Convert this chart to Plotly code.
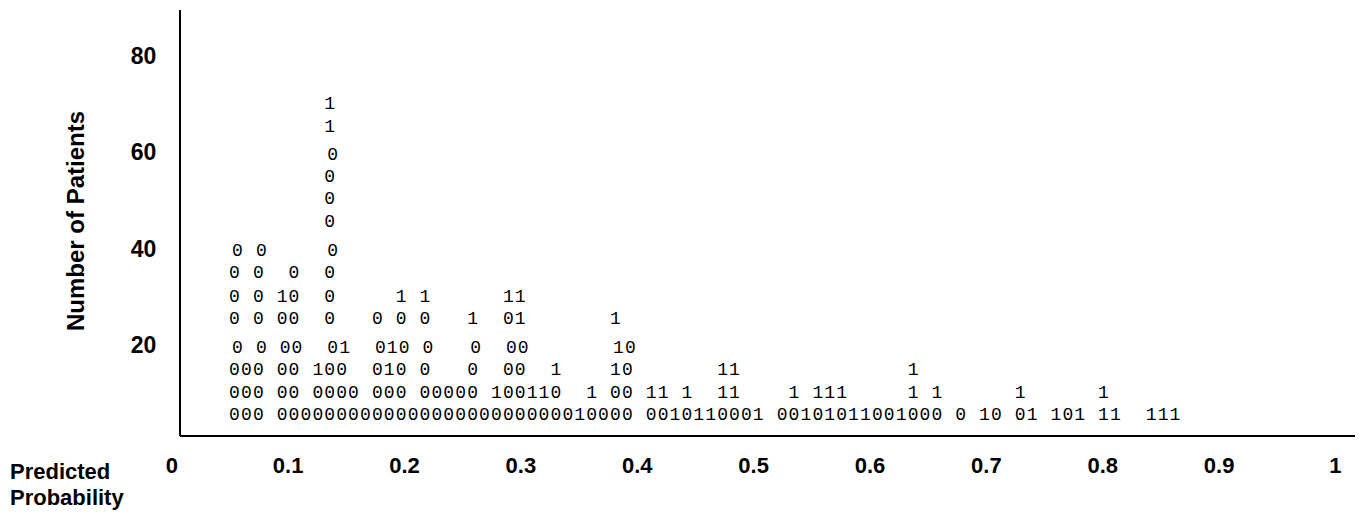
import plotly.graph_objects as go

# ---------------- data ----------------
PROB_TICKS = [0, 0.1, 0.2, 0.3, 0.4, 0.5, 0.6, 0.7, 0.8, 0.9, 1.0]
PROB_TICK_TEXT = ["0", "0.1", "0.2", "0.3", "0.4", "0.5", "0.6", "0.7", "0.8", "0.9", "1"]
COUNT_TICKS = [20, 40, 60, 80]
COUNT_TICK_TEXT = ["20", "40", "60", "80"]

# probability of the first bin centre and width of one bin
BIN_START = 0.0539
BIN_WIDTH = 0.01023

# stack level (patients) of each row of outcome codes, bottom to top
ROW_LEVEL = [5.3, 9.9, 14.7, 19.2, 25.3, 29.8, 34.8, 39.4, 45.4, 50.2, 54.8, 59.4, 65.2, 70.0]

# each row: (first bin index, outcome codes 0/1 in consecutive bins)
ROW_GROUPS = [
    [(0, "000"), (4, "0000000000"), (14, "0000000000"), (24, "00000"), (29, "10000"),
     (35, "0010110001"), (46, "00101011001000"), (61, "0"), (63, "10"), (66, "01"),
     (69, "101"), (73, "11"), (77, "111")],
    [(0, "000"), (4, "00"), (7, "0000"), (12, "000"), (16, "00000"), (22, "100110"),
     (30, "1"), (32, "00"), (35, "11"), (38, "1"), (41, "11"), (47, "1"), (49, "111"),
     (57, "1"), (59, "1"), (66, "1"), (73, "1")],
    [(0, "000"), (4, "00"), (7, "100"), (12, "010"), (16, "0"), (20, "0"), (23, "00"),
     (27, "1"), (32, "10"), (41, "11"), (57, "1")],
    [(0, "0"), (2, "0"), (4, "00"), (8, "01"), (12, "010"), (16, "0"), (20, "0"),
     (23, "00"), (32, "10")],
    [(0, "0"), (2, "0"), (4, "00"), (8, "0"), (12, "0"), (14, "0"), (16, "0"),
     (20, "1"), (23, "01"), (32, "1")],
    [(0, "0"), (2, "0"), (4, "10"), (8, "0"), (14, "1"), (16, "1"), (23, "11")],
    [(0, "0"), (2, "0"), (5, "0"), (8, "0")],
    [(0, "0"), (2, "0"), (8, "0")],
    [(8, "0")],
    [(8, "0")],
    [(8, "0")],
    [(8, "0")],
    [(8, "1")],
    [(8, "1")],
]

# ---------------- layout constants ----------------
ROW_NUDGE = [0, 0, 0, 0.0026, 0, 0, 0, 0.0026, 0, 0, 0, 0.0026, 0, 0]
FONT_FAMILY = "Liberation Sans, Arial, sans-serif"
XTICK_FONT = dict(family=FONT_FAMILY, size=22, color="black", weight="bold")
YTICK_FONT = dict(family=FONT_FAMILY, size=23, color="black", weight="bold")
TITLE_FONT = dict(family=FONT_FAMILY, size=24, color="black", weight="bold")
LABEL_FONT = dict(family=FONT_FAMILY, size=22, color="black", weight="bold")

xs, ys, ts = [], [], []
for level, groups, nudge in zip(ROW_LEVEL, ROW_GROUPS, ROW_NUDGE):
    for start, codes in groups:
        for k, ch in enumerate(codes):
            xs.append(BIN_START + (start + k) * BIN_WIDTH + nudge)
            ys.append(level)
            ts.append(ch)

fig = go.Figure()
fig.add_trace(go.Scatter(
    x=xs, y=ys, text=ts, mode="text", textposition="middle center",
    textfont=dict(family="Liberation Mono, DejaVu Sans Mono, monospace", size=18, color="black"),
    cliponaxis=False, hoverinfo="skip", showlegend=False,
))

# page body has an 8px margin, so the figure is drawn 8px in from the window edge
PAGE = 8
W, H = 1363 - PAGE, 516 - PAGE
PLOT_LEFT, PLOT_RIGHT, PLOT_TOP, PLOT_BOTTOM = 150, 1355, 10, 436
L = PLOT_LEFT - PAGE
T = PLOT_TOP - PAGE
R = W - (PLOT_RIGHT - PAGE)
B = H - (PLOT_BOTTOM - PAGE)
pw = PLOT_RIGHT - PLOT_LEFT
ph = PLOT_BOTTOM - PLOT_TOP


def px_x(x):
    return (x - PLOT_LEFT) / pw


def px_y(y):
    return (PLOT_BOTTOM - y) / ph


axis_pos = px_x(180)

fig.update_layout(
    width=W, height=H,
    margin=dict(l=L, r=R, t=T, b=B, autoexpand=False),
    paper_bgcolor="white", plot_bgcolor="white",
    xaxis=dict(range=[-0.0187, 1.0168], tickvals=PROB_TICKS, ticktext=PROB_TICK_TEXT,
               ticks="", showgrid=False, zeroline=False, showline=False,
               tickfont=XTICK_FONT, ticklabelstandoff=14),
    yaxis=dict(range=[1.04, 89.6], tickvals=COUNT_TICKS, ticktext=COUNT_TICK_TEXT,
               anchor="free", position=axis_pos, side="left",
               ticks="", showgrid=False, zeroline=False,
               showline=True, linecolor="black", linewidth=2,
               tickfont=YTICK_FONT, ticklabelstandoff=18),
    shapes=[dict(type="line", xref="paper", yref="paper", x0=axis_pos, x1=1, y0=0, y1=0,
                 line=dict(color="black", width=2))],
    annotations=[
        dict(text="Number of Patients", textangle=-90, xref="paper", yref="paper",
             x=px_x(75), y=px_y(221), xanchor="center", yanchor="middle",
             showarrow=False, font=TITLE_FONT),
        dict(text="Predicted", xref="paper", yref="paper",
             x=px_x(8), y=px_y(472), xanchor="left", yanchor="middle",
             showarrow=False, font=LABEL_FONT),
        dict(text="Probability", xref="paper", yref="paper",
             x=px_x(8), y=px_y(497), xanchor="left", yanchor="middle",
             showarrow=False, font=LABEL_FONT),
    ],
)

fig.write_html("out.html")
